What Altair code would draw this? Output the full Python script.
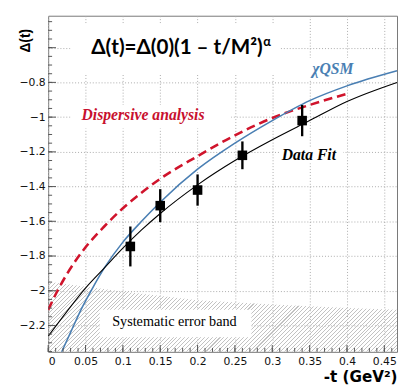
import altair as alt
import pandas as pd

# ---- axis ticks / labels ----
x_ticks = [0, 0.05, 0.1, 0.15, 0.2, 0.25, 0.3, 0.35, 0.4, 0.45]
y_ticks = [-2.2, -2.0, -1.8, -1.6, -1.4, -1.2, -1.0, -0.8, -0.6]
x_minor = [round(0.01 * i, 2) for i in range(47)]
y_minor = [round(-2.35 + 0.05 * i, 2) for i in range(39)]
x_domain = [0, 0.467]
y_domain = [-2.352, -0.416]

# ---- measured points ----
pt_t = [0.11, 0.15, 0.20, 0.26, 0.34]
pt_d = [-1.745, -1.51, -1.42, -1.22, -1.02]
pt_err = [0.115, 0.095, 0.09, 0.08, 0.09]

# ---- Data fit curve ----
fit_t = [0, 0.025, 0.05, 0.075, 0.1, 0.125, 0.15, 0.2, 0.25, 0.3, 0.35, 0.4, 0.467]
fit_d = [-2.262, -2.12, -1.985, -1.87, -1.755, -1.65, -1.555, -1.39, -1.25, -1.13, -1.02, -0.91, -0.80]

# ---- chiQSM curve ----
qsm_t = [0.018, 0.03, 0.045, 0.06, 0.075, 0.1, 0.125, 0.15, 0.2, 0.25, 0.3, 0.35, 0.4, 0.467]
qsm_d = [-2.353, -2.24, -2.10, -1.98, -1.87, -1.72, -1.60, -1.49, -1.30, -1.15, -1.02, -0.905, -0.82, -0.733]

# ---- Dispersive analysis curve ----
disp_t = [0, 0.0125, 0.025, 0.05, 0.075, 0.1, 0.125, 0.15, 0.2, 0.25, 0.3, 0.35, 0.4]
disp_d = [-2.11, -2.0, -1.905, -1.75, -1.63, -1.525, -1.435, -1.355, -1.225, -1.105, -1.005, -0.93, -0.866]

# ---- Systematic error band ----
band_t = [0, 0.1, 0.2, 0.3, 0.4, 0.467]
band_hi = [-1.948, -2.005, -2.055, -2.08, -2.10, -2.11]
band_lo = [-2.352, -2.352, -2.352, -2.352, -2.352, -2.352]

# ---- white label boxes (data coords) ----
box_t1 = [0.030, 0.069, 0.030, 0.335, 0.31]
box_t2 = [0.311, 0.272, 0.245, 0.425, 0.395]
box_v1 = [-0.46, -2.11, -0.93, -0.66, -1.175]
box_v2 = [-0.75, -2.268, -1.065, -0.786, -1.265]

W, H = 356, 343
xs = alt.Scale(domain=x_domain, nice=False, zero=False)
ys = alt.Scale(domain=y_domain, nice=False, zero=False)

X_AXIS = alt.Axis(values=x_ticks, format="~g", title="-t (GeV²)",
                  titleX=W, titleY=25, titleAlign="right", titleBaseline="middle",
                  titleFont="DejaVu Sans", titleFontSize=15.5, titleFontWeight="bold",
                  labelPadding=4)
Y_AXIS = alt.Axis(values=y_ticks, format="~g", title="Δ(t)",
                  labelExpr="datum.value > -0.7 ? '' : datum.label",
                  titleX=-23, titleY=25, titleAngle=270, titleAlign="center",
                  titleBaseline="middle", titleFont="Liberation Sans", titleFontSize=14,
                  titleFontWeight="bold", labelPadding=3)


def X(field):
    return alt.X(field, type="quantitative", scale=xs, axis=X_AXIS)


def Y(field):
    return alt.Y(field, type="quantitative", scale=ys, axis=Y_AXIS)


# hatch via striped linear gradient (objectBoundingBox coordinates)
band_top_px = (y_domain[1] - band_hi[0]) / (y_domain[1] - y_domain[0]) * H
k = (H - band_top_px) / W
s = (1 + k) / (1 + k * k)
PERIOD = 4.0
N = int(round(W * (1 + k) / PERIOD))
HATCH = "#c2c2c2"
CLEAR = "rgba(255,255,255,0)"
stops = []
for i in range(N):
    a, b, c = i / N, (i + 0.26) / N, (i + 1) / N
    stops += [alt.GradientStop(offset=a, color=HATCH), alt.GradientStop(offset=b, color=HATCH),
              alt.GradientStop(offset=b, color=CLEAR), alt.GradientStop(offset=min(c, 1.0), color=CLEAR)]
grad = alt.LinearGradient(gradient="linear", stops=stops, x1=0, y1=0, x2=s, y2=s * k)

band_df = pd.DataFrame({"t": band_t, "v": band_hi, "v2": band_lo})
band = alt.Chart(band_df).mark_area(fill=grad, clip=True).encode(
    x=X("t"), y=Y("v"), y2="v2:Q")

box_df = pd.DataFrame({"t": box_t1, "t2": box_t2, "v": box_v1, "v2": box_v2})
boxes = alt.Chart(box_df).mark_rect(color="white", clip=True).encode(
    x=X("t"), x2="t2:Q", y=Y("v"), y2="v2:Q")


def curve(ts, ds, **kw):
    return alt.Chart(pd.DataFrame({"t": ts, "v": ds})).mark_line(
        interpolate="monotone", clip=True, **kw).encode(x=X("t"), y=Y("v"))


disp = curve(disp_t, disp_d, color="#d0142c", strokeWidth=2.6, strokeDash=[9, 5])
qsm = curve(qsm_t, qsm_d, color="#4a7fb3", strokeWidth=1.6)
fit = curve(fit_t, fit_d, color="black", strokeWidth=1.1)

pts_df = pd.DataFrame({"t": pt_t, "v": pt_d,
                       "lo": [d - e for d, e in zip(pt_d, pt_err)],
                       "hi": [d + e for d, e in zip(pt_d, pt_err)]})
errs = alt.Chart(pts_df).mark_rule(color="black", strokeWidth=2.4).encode(
    x=X("t"), y=Y("lo"), y2="hi:Q")
pts = alt.Chart(pts_df).mark_square(color="black", opacity=1, size=95).encode(
    x=X("t"), y=Y("v"))


def label(text, t, v, **kw):
    return alt.Chart(pd.DataFrame({"t": [t], "v": [v], "s": [text]})).mark_text(**kw).encode(
        x=X("t"), y=Y("v"), text="s:N")


title = label("Δ(t)=Δ(0)(1 – t/M²)", 0.0577, -0.602, align="left", baseline="middle",
              font="Lato", fontSize=21, fontWeight="bold", color="black")
alpha = label("α", 0.288, -0.565, align="left", baseline="middle",
              font="Lato", fontSize=13, fontWeight="bold", color="black")
qsm_lab = label("χQSM", 0.381, -0.724, align="center", baseline="middle",
                font="Liberation Serif", fontSize=16, fontWeight="bold", fontStyle="italic",
                color="#4a7fb3")
disp_lab = label("Dispersive analysis", 0.0446, -0.986, align="left", baseline="middle",
                 font="Liberation Serif", fontSize=16, fontWeight="bold", fontStyle="italic",
                 color="#c8102e")
fit_lab = label("Data Fit", 0.349, -1.218, align="center", baseline="middle",
                font="Liberation Serif", fontSize=16, fontWeight="bold", fontStyle="italic",
                color="black")
sys_lab = label("Systematic error band", 0.169, -2.183, align="center", baseline="middle",
                font="Liberation Serif", fontSize=14.5, color="black")


def xt(vals, length):
    return alt.Chart(pd.DataFrame({"t": vals})).mark_rule(color="#555", strokeWidth=1).encode(
        x=X("t"), y=alt.value(H), y2=alt.value(H - length))


def yt(vals, length):
    return alt.Chart(pd.DataFrame({"v": vals})).mark_rule(color="#555", strokeWidth=1).encode(
        y=Y("v"), x=alt.value(0), x2=alt.value(length))


chart = alt.layer(
    band, boxes, disp, qsm, fit, errs, pts,
    title, alpha, qsm_lab, disp_lab, fit_lab, sys_lab,
    xt(x_minor, 4), xt(x_ticks, 7), yt(y_minor, 4), yt(y_ticks, 8),
).properties(
    width=W, height=H,
    autosize=alt.AutoSizeParams(type="none"),
    padding={"left": 41, "top": 4, "right": 1, "bottom": 33},
).configure_view(stroke="#777", strokeWidth=1).configure_axis(
    grid=True, gridColor="#aaa", gridDash=[1, 2], gridWidth=1,
    ticks=False, tickSize=0, domain=False,
    labelFont="DejaVu Sans", labelFontSize=11, labelColor="#111",
)

chart.save("out.html", embed_options={"renderer": "svg", "actions": False})
